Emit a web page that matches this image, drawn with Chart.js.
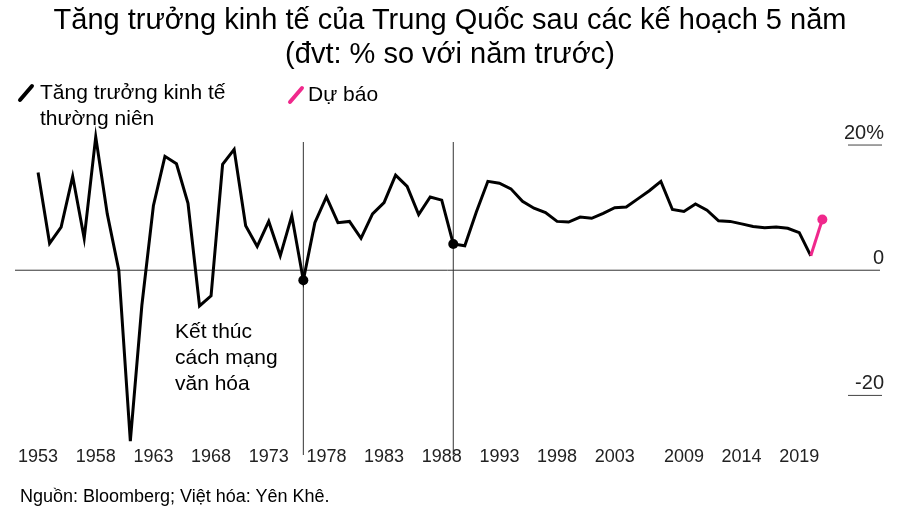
<!DOCTYPE html>
<html><head><meta charset="utf-8">
<script src="https://cdn.jsdelivr.net/npm/chart.js@4/dist/chart.umd.min.js"></script>
<style>
body{margin:0;background:#fff;font-family:"Liberation Sans",Arial,sans-serif;}
#wrap{position:relative;width:900px;height:528px;}
h1{position:absolute;top:2px;left:0;width:900px;margin:0;text-align:center;font-weight:normal;font-size:29px;line-height:34px;color:#000;}
#src{position:absolute;left:20px;top:486px;font-size:18px;}
canvas{position:absolute;left:0;top:0;}
</style></head><body>
<div id="wrap">
<canvas id="c" width="900" height="528"></canvas>
<h1>Tăng trưởng kinh tế của Trung Quốc sau các kế hoạch 5 năm<br>(đvt: % so với năm trước)</h1>
<div id="src">Nguồn: Bloomberg; Việt hóa: Yên Khê.</div>
</div>
<script>
// years 1953..2021, 2021 is the forecast
var years = [];
for (var y = 1953; y <= 2021; y++) years.push(y);
var growth = [15.6,4.3,6.9,15.0,5.1,21.3,9.0,0.0,-27.3,-5.6,10.3,18.2,17.0,10.7,-5.7,-4.1,16.9,19.3,7.1,3.8,
  7.8,2.3,8.7,-1.6,7.6,11.7,7.6,7.8,5.1,9.0,10.8,15.2,13.4,8.9,11.7,11.2,4.2,3.9,9.3,14.2,
  13.9,13.0,11.0,9.9,9.2,7.8,7.7,8.5,8.3,9.1,10.0,10.1,11.4,12.7,14.2,9.7,9.4,10.6,9.6,7.9,
  7.8,7.4,7.0,6.8,6.9,6.7,6.0,2.3,8.1];
var xTickYears = [1953,1958,1963,1968,1973,1978,1983,1988,1993,1998,2003,2009,2014,2019];
var yTicks = [20, 0, -20];
var yTickLabels = ['20%', '0', '-20'];
var markedYears = [1976, 1989];

var pts = years.map(function(yr, i) { return {x: yr, y: growth[i]}; });

var decor = {
  id: 'decor',
  afterDatasetsDraw: function(chart) {
    var ctx = chart.ctx, xs = chart.scales.x, ys = chart.scales.y;
    ctx.save();
    ctx.font = '18px "Liberation Sans", Arial, sans-serif';
    ctx.fillStyle = '#222';
    ctx.textAlign = 'center';
    xTickYears.forEach(function(t) { ctx.fillText(t, xs.getPixelForValue(t), 462); });
    // right-side y labels with short underline
    ctx.textAlign = 'right';
    ctx.font = '20px "Liberation Sans", Arial, sans-serif';
    yTicks.forEach(function(v, i) {
      var py = ys.getPixelForValue(v);
      ctx.fillText(yTickLabels[i], 884, py - 6);
      if (v !== 0) {
        ctx.strokeStyle = '#444'; ctx.lineWidth = 1;
        ctx.beginPath(); ctx.moveTo(848, py); ctx.lineTo(882, py); ctx.stroke();
      }
    });
    // legend
    ctx.textAlign = 'left';
    ctx.lineWidth = 4; ctx.lineCap = 'round';
    ctx.strokeStyle = '#000';
    ctx.beginPath(); ctx.moveTo(20, 100); ctx.lineTo(32, 86); ctx.stroke();
    ctx.strokeStyle = '#f0288c';
    ctx.beginPath(); ctx.moveTo(290, 102); ctx.lineTo(302, 88); ctx.stroke();
    ctx.fillStyle = '#000';
    ctx.font = '21px "Liberation Sans", Arial, sans-serif';
    ctx.fillText('Tăng trưởng kinh tế', 40, 99);
    ctx.fillText('thường niên', 40, 125);
    ctx.fillText('Dự báo', 308, 101);
    ctx.fillText('Kết thúc', 175, 338);
    ctx.fillText('cách mạng', 175, 364);
    ctx.fillText('văn hóa', 175, 390);
    ctx.restore();
  },
  beforeDatasetsDraw: function(chart) {
    var ctx = chart.ctx, xs = chart.scales.x, ys = chart.scales.y, a = chart.chartArea;
    ctx.save();
    var z = ys.getPixelForValue(0);
    ctx.strokeStyle = '#333'; ctx.lineWidth = 1;
    ctx.beginPath(); ctx.moveTo(a.left, z); ctx.lineTo(a.right, z); ctx.stroke();
    markedYears.forEach(function(yr) {
      var px = xs.getPixelForValue(yr);
      ctx.beginPath(); ctx.moveTo(px, 142); ctx.lineTo(px, 455); ctx.stroke();
    });
    ctx.restore();
  }
};

new Chart(document.getElementById('c'), {
  type: 'line',
  data: { datasets: [{
    data: pts,
    borderColor: '#000',
    borderWidth: 3,
    tension: 0,
    segment: { borderColor: function(c) { return c.p0.parsed.x >= 2020 ? '#f0288c' : '#000'; } },
    pointRadius: function(c) {
      var x = c.raw && c.raw.x;
      return (markedYears.indexOf(x) >= 0 || x === 2021) ? 5 : 0;
    },
    pointBackgroundColor: function(c) { return c.raw && c.raw.x === 2021 ? '#f0288c' : '#000'; },
    pointBorderWidth: 0
  }]},
  options: {
    responsive: false, animation: false,
    layout: { padding: { left: 15, right: 20, top: 120, bottom: 70 } },
    plugins: { legend: { display: false }, tooltip: { enabled: false } },
    scales: {
      x: { type: 'linear', min: 1951, max: 2026, display: false },
      y: { min: -30, max: 24, display: false }
    }
  },
  plugins: [decor]
});
</script>
</body></html>
